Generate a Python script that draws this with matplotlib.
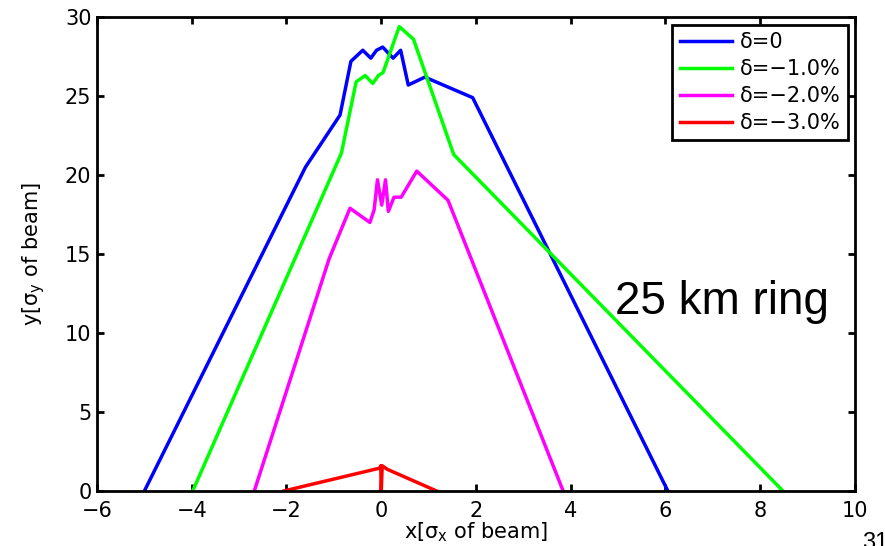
import matplotlib.pyplot as plt

plt.rcParams['font.family'] = ['DejaVu Sans']
plt.rcParams['mathtext.fontset'] = 'dejavusans'

# dynamic aperture boundaries for each momentum deviation
x_d0 = [-5.0, -1.6, -0.87, -0.64, -0.39, -0.22, -0.1, 0.03, 0.25, 0.41, 0.57, 0.92, 1.93, 6.05]
y_d0 = [0.0, 20.5, 23.8, 27.2, 27.9, 27.4, 27.9, 28.1, 27.4, 27.9, 25.7, 26.2, 24.9, 0.0]

x_d1 = [-3.98, -0.84, -0.53, -0.34, -0.18, -0.06, 0.04, 0.38, 0.68, 1.53, 8.48]
y_d1 = [0.0, 21.4, 25.9, 26.3, 25.8, 26.3, 26.5, 29.4, 28.6, 21.3, 0.0]

x_d2 = [-2.68, -1.1, -0.66, -0.24, -0.15, -0.08, 0.01, 0.09, 0.15, 0.27, 0.42, 0.75, 1.41, 3.84]
y_d2 = [0.0, 14.7, 17.9, 17.0, 17.8, 19.7, 18.1, 19.7, 17.7, 18.6, 18.6, 20.25, 18.4, 0.0]

x_d3 = [-2.06, -0.03, -0.01, 0.0, 0.02, 0.13, 1.17]
y_d3 = [0.0, 1.45, 1.6, 0.0, 1.6, 1.37, 0.0]

labels = ['δ=0', 'δ=−1.0%', 'δ=−2.0%', 'δ=−3.0%']
colors = ['#0000ff', '#00ff00', '#ff00ff', '#ff0000']

fig = plt.figure(figsize=(8.85, 5.46), dpi=100)
ax = fig.add_axes([0.1096, 0.1007, 0.8565, 0.868])

for xs, ys, lab, c in zip([x_d0, x_d1, x_d2, x_d3], [y_d0, y_d1, y_d2, y_d3], labels, colors):
    ax.plot(xs, ys, color=c, linewidth=2.5, label=lab)

ax.set_xlim(-6, 10)
ax.set_ylim(0, 30)
ax.set_xticks(range(-6, 11, 2))
ax.set_yticks(range(0, 31, 5))
ax.set_xticklabels(['−6', '−4', '−2', '0', '2', '4', '6', '8', '10'])
ax.tick_params(direction='in', length=5, width=2, labelsize=15, top=True, right=True)
ax.tick_params(axis='x', pad=7)
ax.tick_params(axis='y', pad=4)
for s in ax.spines.values():
    s.set_linewidth(2)

ax.set_xlabel(r'x[σ$_\mathrm{x}$ of beam]', fontsize=15, labelpad=0)
ax.set_ylabel(r'y[σ$_\mathrm{y}$ of beam]', fontsize=15, labelpad=13)

leg = ax.legend(loc='upper right', bbox_to_anchor=(0.991, 0.983), borderaxespad=0,
                fontsize=15, handlelength=2.5, labelspacing=0.33, fancybox=False,
                framealpha=1, edgecolor='black', borderpad=0.35, handletextpad=0.4)
leg.get_frame().set_linewidth(2)

ax.text(615, 232, '25 km ring', fontsize=33, family='Liberation Sans', transform=None)
fig.text(862 / 885, 1 - 532 / 546, '31', fontsize=17, family='Liberation Sans', va='top', ha='left')

fig.savefig('out.png', dpi=100)
